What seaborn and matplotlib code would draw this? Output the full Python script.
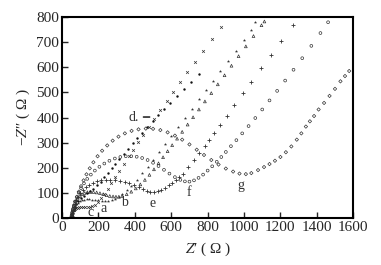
import numpy as np
import pandas as pd
import matplotlib
matplotlib.use("Agg")
import matplotlib.pyplot as plt
import seaborn as sns

# -------------------- DATA --------------------
c_x = [50, 52, 55, 59, 64, 70, 77, 85, 94, 104, 115, 127, 140, 153, 166, 180, 195, 212, 230, 250, 270, 292,
       315, 340, 365, 390, 418, 446, 476, 507, 540, 574, 610, 648, 688, 730, 775, 824, 876]
c_y = [0, 8, 16, 24, 31, 36, 40, 42, 44, 45, 45, 44, 43, 44, 47, 54, 64, 78, 96, 116, 138, 162,
       188, 216, 245, 272, 302, 332, 364, 396, 430, 465, 502, 540, 580, 621, 666, 713, 762]

a_x = [50, 52, 55, 59, 64, 70, 77, 86, 96, 108, 121, 135, 150, 166, 183, 200, 218, 236, 255, 272, 290, 310,
       330, 355, 380, 410, 440, 470, 500, 532, 565, 600, 636, 673, 712, 752, 790, 830, 870, 912, 955, 1000, 1040, 1060]
a_y = [0, 10, 20, 30, 40, 49, 56, 62, 67, 71, 73, 74, 74, 73, 72, 70, 69, 68, 68, 70, 75, 83,
       94, 110, 128, 152, 178, 205, 233, 263, 294, 327, 361, 397, 434, 472, 508, 546, 584, 624, 665, 709, 750, 778]

b_x = [50, 52, 55, 59, 64, 70, 78, 87, 98, 110, 124, 139, 155, 172, 190, 208, 226, 244, 262, 280, 296, 312,
       330, 355, 380, 405, 430, 455, 480, 505, 530, 555, 580, 605, 632, 660, 690, 720, 752, 785, 820, 856,
       893, 931, 970, 1010, 1052, 1096, 1112]
b_y = [0, 12, 24, 36, 48, 60, 71, 81, 89, 95, 100, 103, 104, 104, 102, 99, 95, 91, 88, 86, 85, 85,
       88, 95, 105, 118, 134, 152, 172, 194, 218, 242, 266, 290, 316, 343, 372, 401, 432, 464, 497, 532,
       568, 606, 644, 683, 724, 767, 782]

d_x = [50, 53, 57, 63, 70, 79, 90, 103, 118, 135, 153, 172, 192, 212, 232, 252, 272, 293, 315, 338, 362,
       387, 413, 440, 468, 497, 528, 560, 594, 630, 668, 708, 750]
d_y = [0, 10, 20, 32, 44, 56, 68, 79, 89, 98, 107, 117, 130, 145, 162, 180, 198, 216, 236, 256, 276,
       297, 318, 340, 362, 385, 409, 434, 459, 486, 513, 542, 572]

e_x = [50, 52, 55, 59, 64, 70, 78, 88, 100, 114, 130, 148, 168, 190, 214, 240, 266, 292, 318, 344, 370,
       395, 420, 443, 465, 485, 505, 525, 545, 565, 585, 605, 625, 645, 663, 690, 724, 755, 785, 810, 834,
       870, 906, 945, 994, 1039, 1094, 1149, 1204, 1271]
e_y = [0, 8, 18, 30, 43, 56, 70, 84, 98, 111, 123, 133, 141, 147, 151, 153, 153, 152, 149, 145, 139,
       131, 122, 114, 107, 103, 103, 106, 112, 120, 130, 141, 153, 165, 177, 203, 233, 260, 287, 312, 337,
       372, 408, 450, 498, 542, 596, 649, 705, 769]

f_x = [50, 52, 55, 59, 64, 71, 80, 91, 104, 120, 138, 158, 180, 205, 232, 260, 290, 320, 350, 380, 410,
       440, 470, 500, 530, 560, 590, 620, 650, 675, 700, 725, 750, 775, 800, 825, 850, 875, 900, 928, 958,
       990, 1025, 1062, 1100, 1140, 1182, 1226, 1272, 1320, 1370, 1420, 1462]
f_y = [0, 10, 22, 36, 50, 66, 83, 101, 119, 138, 156, 173, 189, 204, 217, 228, 237, 243, 246, 246, 244,
       239, 231, 220, 207, 192, 177, 163, 152, 146, 145, 150, 160, 173, 189, 206, 224, 243, 263, 286, 310,
       337, 366, 398, 432, 468, 506, 547, 590, 636, 685, 736, 779]

g_x = [50, 52, 55, 60, 66, 73, 82, 92, 104, 118, 134, 152, 172, 195, 220, 248, 278, 310, 345, 382, 420,
       460, 500, 540, 580, 620, 660, 700, 740, 780, 820, 860, 900, 940, 975, 1010, 1040, 1077, 1110, 1140,
       1170, 1200, 1230, 1260, 1290, 1315, 1340, 1362, 1385, 1410, 1440, 1470, 1500, 1530, 1555, 1578]
g_y = [0, 5, 15, 30, 48, 65, 85, 105, 127, 150, 174, 198, 222, 246, 268, 289, 308, 324, 337, 347, 353,
       356, 355, 350, 341, 328, 312, 293, 272, 251, 231, 213, 197, 185, 177, 175, 179, 191, 203, 215,
       228, 243, 262, 285, 312, 337, 364, 385, 406, 432, 458, 486, 514, 544, 565, 585]

curve_names = ["a", "b", "c", "d", "e", "f", "g"]
xs = [a_x, b_x, c_x, d_x, e_x, f_x, g_x]
ys = [a_y, b_y, c_y, d_y, e_y, f_y, g_y]

# label positions for a..g
label_x = [226, 342, 155, 364, 497, 695, 982]
label_y = [40, 64, 24, 402, 60, 100, 131]

frames = []
for name, x, y in zip(curve_names, xs, ys):
    frames.append(pd.DataFrame({"Zre": x, "Zim": y, "curve": name}))
df = pd.concat(frames, ignore_index=True)

# -------------------- STYLE --------------------
sns.set_style("ticks")
plt.rcParams["font.family"] = ["Liberation Serif", "DejaVu Serif"]
plt.rcParams["mathtext.fontset"] = "stix"

ink = "#333333"
marker_style = {
    "a": dict(marker="*", s=6, color=ink, linewidths=0),
    "b": dict(marker="^", s=4, facecolor="none", edgecolor=ink, linewidths=0.5),
    "c": dict(marker="x", s=4, color=ink, linewidths=0.5),
    "d": dict(marker="o", s=3, color="#111111", linewidths=0),
    "e": dict(marker="+", s=6, color=ink, linewidths=0.6),
    "f": dict(marker="o", s=4, facecolor="none", edgecolor=ink, linewidths=0.5),
    "g": dict(marker="D", s=3, facecolor="none", edgecolor=ink, linewidths=0.5),
}

fig = plt.figure(figsize=(3.81, 2.65), dpi=100)
ax = fig.add_axes([0.163, 0.177, 0.764, 0.759])

for name in curve_names:
    sub = df[df["curve"] == name]
    sns.scatterplot(data=sub, x="Zre", y="Zim", ax=ax, legend=False, **marker_style[name])

for name, lx, ly in zip(curve_names, label_x, label_y):
    if name == "d":
        ax.annotate("d.", xy=(497, 402), xytext=(lx, ly), fontsize=10, va="center", color=ink,
                    arrowprops=dict(arrowstyle="-", color="k", lw=1.0, shrinkA=1, shrinkB=2))
    else:
        ax.text(lx, ly, name, fontsize=10, ha="center", va="center", color=ink)

ax.set_xlim(0, 1600)
ax.set_ylim(0, 800)
ax.set_xticks(np.arange(0, 1601, 200))
ax.set_yticks(np.arange(0, 801, 100))
ax.tick_params(direction="in", length=4, width=1.0, labelsize=11, top=False, right=False, pad=2)
for sp in ax.spines.values():
    sp.set_linewidth(1.5)
    sp.set_color("black")

ax.set_xlabel("$Z$\u2032 ( \u03a9 )", fontsize=11, labelpad=5)
ax.set_ylabel("\u2212$Z$\u2033 ( \u03a9 )", fontsize=11, labelpad=3)

plt.savefig("out.png", dpi=100)
plt.close()
